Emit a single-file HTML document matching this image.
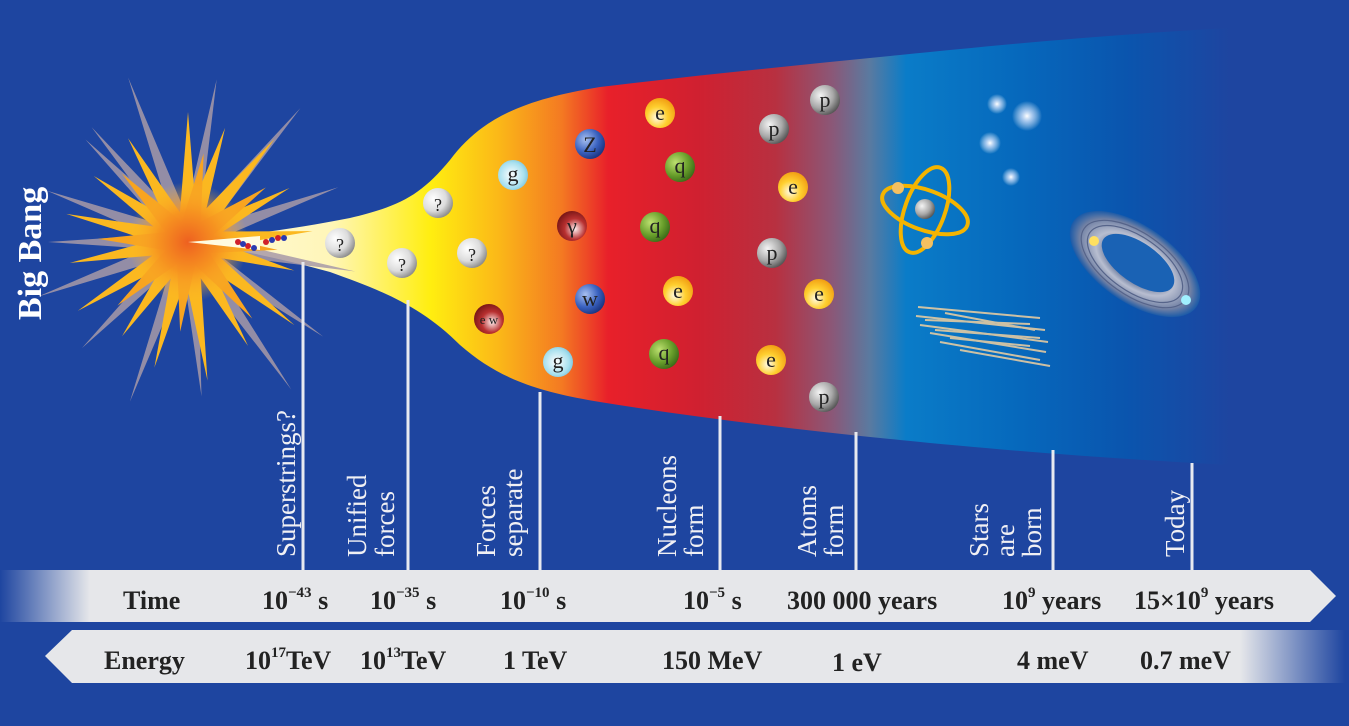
<!DOCTYPE html>
<html><head><meta charset="utf-8"><style>
html,body{margin:0;padding:0;background:#1e45a0;}
svg{display:block}
text{font-family:"Liberation Serif",serif;}
</style></head><body>
<svg width="1349" height="726" viewBox="0 0 1349 726" xmlns="http://www.w3.org/2000/svg">
<defs>
<linearGradient id="fun" x1="185" y1="0" x2="1230" y2="0" gradientUnits="userSpaceOnUse">
<stop offset="0" stop-color="#fffbe0"/>
<stop offset="0.14" stop-color="#fff6b8"/>
<stop offset="0.235" stop-color="#ffee10"/>
<stop offset="0.30" stop-color="#fbb818"/>
<stop offset="0.36" stop-color="#f47a22"/>
<stop offset="0.405" stop-color="#e8202a"/>
<stop offset="0.49" stop-color="#d02030"/>
<stop offset="0.565" stop-color="#b83040"/>
<stop offset="0.62" stop-color="#8a5878"/>
<stop offset="0.655" stop-color="#5a7aa0"/>
<stop offset="0.69" stop-color="#0a7cc8"/>
<stop offset="0.80" stop-color="#0668bc"/>
<stop offset="0.90" stop-color="#0a55ae"/>
<stop offset="1" stop-color="#1e45a0"/>
</linearGradient>
<linearGradient id="tbar" x1="0" y1="0" x2="100" y2="0" gradientUnits="userSpaceOnUse">
<stop offset="0" stop-color="#1e45a0"/><stop offset="0.9" stop-color="#e6e7ea"/>
</linearGradient>
<linearGradient id="ebar" x1="1240" y1="0" x2="1345" y2="0" gradientUnits="userSpaceOnUse">
<stop offset="0" stop-color="#e6e7ea"/><stop offset="1" stop-color="#1e45a0"/>
</linearGradient>
<radialGradient id="burst" cx="0.5" cy="0.5" r="0.5">
<stop offset="0" stop-color="#ee6020"/><stop offset="0.5" stop-color="#f69020" stop-opacity="0.9"/><stop offset="1" stop-color="#fbb828" stop-opacity="0"/>
</radialGradient>
<radialGradient id="gw" cx="0.35" cy="0.35" r="0.7"><stop offset="0" stop-color="#fff"/><stop offset="0.6" stop-color="#dcdcdc"/><stop offset="1" stop-color="#8a8a8a"/></radialGradient>
<radialGradient id="gp" cx="0.35" cy="0.35" r="0.7"><stop offset="0" stop-color="#f4f4f4"/><stop offset="0.6" stop-color="#a8a8a8"/><stop offset="1" stop-color="#555"/></radialGradient>
<radialGradient id="ge" cx="0.4" cy="0.65" r="0.7"><stop offset="0" stop-color="#fffbe8"/><stop offset="0.5" stop-color="#ffd030"/><stop offset="1" stop-color="#f09a10"/></radialGradient>
<radialGradient id="gq" cx="0.35" cy="0.35" r="0.7"><stop offset="0" stop-color="#bde070"/><stop offset="0.6" stop-color="#6aa02c"/><stop offset="1" stop-color="#3c6c18"/></radialGradient>
<radialGradient id="gg" cx="0.45" cy="0.5" r="0.7"><stop offset="0" stop-color="#ffffff"/><stop offset="0.6" stop-color="#a8e0ee"/><stop offset="1" stop-color="#5ab0d0"/></radialGradient>
<radialGradient id="gb" cx="0.35" cy="0.35" r="0.7"><stop offset="0" stop-color="#a8c0f0"/><stop offset="0.6" stop-color="#3a62c0"/><stop offset="1" stop-color="#1a3480"/></radialGradient>
<radialGradient id="gr" cx="0.6" cy="0.6" r="0.7"><stop offset="0" stop-color="#fff0f0"/><stop offset="0.5" stop-color="#b83030"/><stop offset="1" stop-color="#6a1010"/></radialGradient>
<radialGradient id="star" cx="0.5" cy="0.5" r="0.5"><stop offset="0" stop-color="#fff"/><stop offset="0.4" stop-color="#dde8ff" stop-opacity="0.7"/><stop offset="1" stop-color="#fff" stop-opacity="0"/></radialGradient>
<radialGradient id="gal" cx="0.5" cy="0.5" r="0.5"><stop offset="0.45" stop-color="#7a88a8"/><stop offset="0.6" stop-color="#b8bed0"/><stop offset="0.85" stop-color="#7080a4"/><stop offset="1" stop-color="#1a5aa8"/></radialGradient>
</defs>
<rect width="1349" height="726" fill="#1e45a0"/>
<path d="M185 242 C240 236 300 228 350 218 C400 206 420 196 450 160 C480 120 520 100 600 87 C700 75 800 65 900 55 C1000 45 1100 35 1230 28 L1230 465 C1100 458 1000 450 900 440 C800 430 700 418 600 402 C540 392 500 380 460 345 C420 305 380 290 330 272 C280 258 230 248 185 242 Z" fill="url(#fun)"/>
<g transform="translate(188,242)">
<g fill="#a89aa8" opacity="0.85">
<polygon points="0,-175 8,-20 -8,-20" transform="rotate(-20)"/>
<polygon points="0,-175 8,-20 -8,-20" transform="rotate(40)"/>
<polygon points="0,-170 8,-20 -8,-20" transform="rotate(100)"/>
<polygon points="0,-180 8,-20 -8,-20" transform="rotate(145)"/>
<polygon points="0,-170 8,-20 -8,-20" transform="rotate(200)"/>
<polygon points="0,-160 8,-20 -8,-20" transform="rotate(250)"/>
<polygon points="0,-150 8,-20 -8,-20" transform="rotate(290)"/>
<polygon points="0,-165 8,-20 -8,-20" transform="rotate(10)"/>
<polygon points="0,-160 8,-20 -8,-20" transform="rotate(70)"/>
<polygon points="0,-165 8,-20 -8,-20" transform="rotate(125)"/>
<polygon points="0,-155 8,-20 -8,-20" transform="rotate(175)"/>
<polygon points="0,-150 8,-20 -8,-20" transform="rotate(225)"/>
<polygon points="0,-150 8,-20 -8,-20" transform="rotate(320)"/>
<polygon points="0,-140 8,-20 -8,-20" transform="rotate(270)"/>
<polygon points="0,-145 8,-20 -8,-20" transform="rotate(-45)"/>
</g>
<g fill="#fbb820">
<polygon points="0,-130 10,-5 -10,-5" transform="rotate(0)"/>
<polygon points="0,-120 10,-5 -10,-5" transform="rotate(18)"/>
<polygon points="0,-135 10,-5 -10,-5" transform="rotate(40)"/>
<polygon points="0,-115 10,-5 -10,-5" transform="rotate(62)"/>
<polygon points="0,-125 10,-5 -10,-5" transform="rotate(85)"/>
<polygon points="0,-110 10,-5 -10,-5" transform="rotate(105)"/>
<polygon points="0,-135 10,-5 -10,-5" transform="rotate(128)"/>
<polygon points="0,-120 10,-5 -10,-5" transform="rotate(150)"/>
<polygon points="0,-140 10,-5 -10,-5" transform="rotate(172)"/>
<polygon points="0,-130 10,-5 -10,-5" transform="rotate(195)"/>
<polygon points="0,-115 10,-5 -10,-5" transform="rotate(215)"/>
<polygon points="0,-130 10,-5 -10,-5" transform="rotate(238)"/>
<polygon points="0,-120 10,-5 -10,-5" transform="rotate(260)"/>
<polygon points="0,-125 10,-5 -10,-5" transform="rotate(283)"/>
<polygon points="0,-115 10,-5 -10,-5" transform="rotate(305)"/>
<polygon points="0,-120 10,-5 -10,-5" transform="rotate(330)"/>
</g>
<g fill="#f8a420">
<polygon points="0,-90 12,0 -12,0" transform="rotate(10)"/>
<polygon points="0,-95 12,0 -12,0" transform="rotate(55)"/>
<polygon points="0,-90 12,0 -12,0" transform="rotate(95)"/>
<polygon points="0,-100 12,0 -12,0" transform="rotate(140)"/>
<polygon points="0,-90 12,0 -12,0" transform="rotate(185)"/>
<polygon points="0,-95 12,0 -12,0" transform="rotate(228)"/>
<polygon points="0,-90 12,0 -12,0" transform="rotate(272)"/>
<polygon points="0,-95 12,0 -12,0" transform="rotate(316)"/>
</g>
<circle r="60" fill="url(#burst)"/>
</g>
<path d="M188 242 L260 236 L260 250 Z" fill="#fffbe0"/>
<g fill="#d0202a"><circle cx="238" cy="242" r="3"/><circle cx="248" cy="246" r="3"/><circle cx="266" cy="242" r="3"/><circle cx="278" cy="238" r="3"/></g>
<g fill="#2a3ab0"><circle cx="243" cy="244" r="3"/><circle cx="254" cy="248" r="3"/><circle cx="272" cy="240" r="3"/><circle cx="284" cy="238" r="3"/></g>
<text transform="translate(41,320) rotate(-90)" font-size="34" font-weight="bold" fill="#fff">Big Bang</text>
<g stroke="#e8eaf0" stroke-width="3">
<line x1="303" y1="262" x2="303" y2="572"/>
<line x1="408" y1="300" x2="408" y2="572"/>
<line x1="540" y1="392" x2="540" y2="572"/>
<line x1="720" y1="416" x2="720" y2="572"/>
<line x1="856" y1="432" x2="856" y2="572"/>
<line x1="1053" y1="450" x2="1053" y2="572"/>
<line x1="1192" y1="463" x2="1192" y2="572"/>
</g>
<g font-size="27" fill="#f0f0f4">
<text transform="translate(295,557) rotate(-90)">Superstrings?</text>
<text transform="translate(366,557) rotate(-90)">Unified</text>
<text transform="translate(394,557) rotate(-90)">forces</text>
<text transform="translate(495,557) rotate(-90)">Forces</text>
<text transform="translate(522,557) rotate(-90)">separate</text>
<text transform="translate(676,557) rotate(-90)">Nucleons</text>
<text transform="translate(703,557) rotate(-90)">form</text>
<text transform="translate(816,557) rotate(-90)">Atoms</text>
<text transform="translate(843,557) rotate(-90)">form</text>
<text transform="translate(988,557) rotate(-90)">Stars</text>
<text transform="translate(1014,557) rotate(-90)">are</text>
<text transform="translate(1041,557) rotate(-90)">born</text>
<text transform="translate(1184,557) rotate(-90)">Today</text>
</g>
<g font-size="22" text-anchor="middle" fill="#222">
<circle cx="340" cy="243" r="15" fill="url(#gw)"/><text x="340" y="251" font-size="18">?</text>
<circle cx="402" cy="263" r="15" fill="url(#gw)"/><text x="402" y="271" font-size="18">?</text>
<circle cx="438" cy="203" r="15" fill="url(#gw)"/><text x="438" y="211" font-size="18">?</text>
<circle cx="472" cy="253" r="15" fill="url(#gw)"/><text x="472" y="261" font-size="18">?</text>
<circle cx="513" cy="175" r="15" fill="url(#gg)"/><text x="513" y="181">g</text>
<circle cx="558" cy="362" r="15" fill="url(#gg)"/><text x="558" y="368">g</text>
<circle cx="590" cy="144" r="15" fill="url(#gb)"/><text x="590" y="152">Z</text>
<circle cx="572" cy="226" r="15" fill="url(#gr)"/><text x="572" y="233">γ</text>
<circle cx="590" cy="299" r="15" fill="url(#gb)"/><text x="590" y="306">w</text>
<circle cx="489" cy="319" r="15" fill="url(#gr)"/><text x="489" y="324" font-size="13">e w</text>
<circle cx="660" cy="113" r="15" fill="url(#ge)"/><text x="660" y="120">e</text>
<circle cx="680" cy="167" r="15" fill="url(#gq)"/><text x="680" y="173">q</text>
<circle cx="655" cy="227" r="15" fill="url(#gq)"/><text x="655" y="233">q</text>
<circle cx="678" cy="291" r="15" fill="url(#ge)"/><text x="678" y="298">e</text>
<circle cx="664" cy="354" r="15" fill="url(#gq)"/><text x="664" y="360">q</text>
<circle cx="774" cy="129" r="15" fill="url(#gp)"/><text x="774" y="136">p</text>
<circle cx="825" cy="100" r="15" fill="url(#gp)"/><text x="825" y="107">p</text>
<circle cx="793" cy="187" r="15" fill="url(#ge)"/><text x="793" y="194">e</text>
<circle cx="772" cy="253" r="15" fill="url(#gp)"/><text x="772" y="260">p</text>
<circle cx="819" cy="294" r="15" fill="url(#ge)"/><text x="819" y="301">e</text>
<circle cx="771" cy="360" r="15" fill="url(#ge)"/><text x="771" y="367">e</text>
<circle cx="824" cy="397" r="15" fill="url(#gp)"/><text x="824" y="404">p</text>
</g>
<g fill="none" stroke="#f4b400" stroke-width="4">
<ellipse cx="925" cy="210" rx="45" ry="20" transform="rotate(20 925 210)"/>
<ellipse cx="925" cy="210" rx="45" ry="20" transform="rotate(-70 925 210)"/>
</g>
<circle cx="925" cy="209" r="10" fill="url(#gp)"/>
<circle cx="898" cy="188" r="6" fill="#f4c060"/><circle cx="927" cy="243" r="6" fill="#f4c060"/>
<circle cx="997" cy="104" r="10" fill="url(#star)"/>
<circle cx="1027" cy="116" r="15" fill="url(#star)"/>
<circle cx="990" cy="143" r="11" fill="url(#star)"/>
<circle cx="1011" cy="177" r="9" fill="url(#star)"/>
<g stroke="#f0d0a0" stroke-width="2" opacity="0.85">
<line x1="918" y1="307" x2="1040" y2="318"/><line x1="916" y1="316" x2="1045" y2="330"/>
<line x1="920" y1="325" x2="1048" y2="342"/><line x1="930" y1="333" x2="1046" y2="352"/>
<line x1="940" y1="342" x2="1040" y2="360"/><line x1="960" y1="350" x2="1050" y2="366"/>
<line x1="925" y1="320" x2="1030" y2="324"/><line x1="935" y1="330" x2="1040" y2="338"/>
<line x1="945" y1="313" x2="1035" y2="330"/><line x1="950" y1="338" x2="1030" y2="346"/>
</g>
<ellipse cx="1135" cy="264" rx="75" ry="38" transform="rotate(35 1135 264)" fill="url(#gal)"/>
<g fill="none" stroke="#56648a" stroke-width="1.2">
<ellipse cx="1135" cy="264" rx="62" ry="31" transform="rotate(35 1135 264)"/>
<ellipse cx="1135" cy="264" rx="55" ry="27" transform="rotate(35 1135 264)"/>
</g>
<ellipse cx="1138" cy="263" rx="42" ry="20" transform="rotate(35 1138 263)" fill="#1a62b4"/>
<circle cx="1094" cy="241" r="5" fill="#ffe060"/><circle cx="1186" cy="300" r="5" fill="#a0f0ff"/>
<path d="M0 570 L1310 570 L1336 596 L1310 622 L0 622 Z" fill="#e6e7ea"/>
<rect x="0" y="570" width="100" height="52" fill="url(#tbar)"/>
<path d="M72 630 L1349 630 L1349 683 L72 683 L45 656 Z" fill="#e6e7ea"/>
<rect x="1240" y="630" width="109" height="53" fill="url(#ebar)"/>
<g font-size="26" font-weight="bold" fill="#222">
<text x="123" y="609">Time</text>
<text x="262" y="609">10<tspan dy="-12" font-size="15">−43</tspan><tspan dy="12"> s</tspan></text>
<text x="370" y="609">10<tspan dy="-12" font-size="15">−35</tspan><tspan dy="12"> s</tspan></text>
<text x="500" y="609">10<tspan dy="-12" font-size="15">−10</tspan><tspan dy="12"> s</tspan></text>
<text x="683" y="609">10<tspan dy="-12" font-size="15">−5</tspan><tspan dy="12"> s</tspan></text>
<text x="787" y="609">300 000 years</text>
<text x="1002" y="609">10<tspan dy="-12" font-size="15">9</tspan><tspan dy="12"> years</tspan></text>
<text x="1134" y="609">15×10<tspan dy="-12" font-size="15">9</tspan><tspan dy="12"> years</tspan></text>
<text x="104" y="669">Energy</text>
<text x="245" y="669">10<tspan dy="-12" font-size="15">17</tspan><tspan dy="12">TeV</tspan></text>
<text x="360" y="669">10<tspan dy="-12" font-size="15">13</tspan><tspan dy="12">TeV</tspan></text>
<text x="503" y="669">1 TeV</text>
<text x="662" y="669">150 MeV</text>
<text x="832" y="671">1 eV</text>
<text x="1017" y="669">4 meV</text>
<text x="1140" y="669">0.7 meV</text>
</g>
</svg>
</body></html>
